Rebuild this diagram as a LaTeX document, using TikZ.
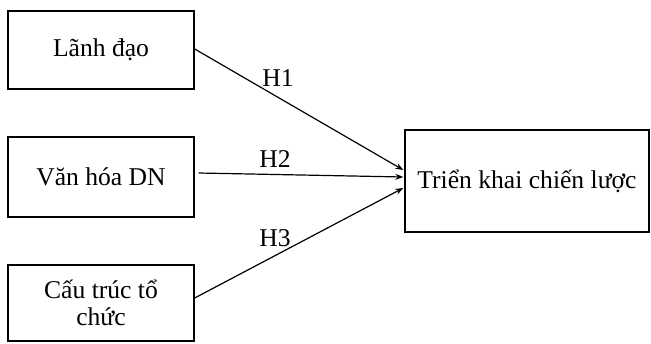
\documentclass[tikz,border=0pt]{standalone}
\usepackage{fontspec}
\setmainfont{Liberation Serif}
\usetikzlibrary{calc,arrows.meta}
\begin{document}
\begin{tikzpicture}[x=1pt,y=-1pt,
  box/.style={draw,line width=1.4pt,inner sep=0pt,align=center,font=\fontsize{25.6}{27}\selectfont},
  arr/.style={line width=1.2pt,-{Stealth[length=8pt,width=6pt]}},
  lab/.style={font=\fontsize{25.6}{27}\selectfont,inner sep=0pt}]
\useasboundingbox (0,0) rectangle (651,343);
\node[box,minimum width=186pt,minimum height=78pt] (a) at (101,50) {Lãnh đạo};
\node[box,minimum width=186pt,minimum height=80pt] (b) at (101,177) {Văn hóa DN};
\node[box,minimum width=186pt,minimum height=76pt] (c) at (101,303) {Cấu trúc tổ\\chức};
\node[box,minimum width=244pt,minimum height=102pt] (t) at (527,181) {Triển khai chiến lược};
\coordinate (bs) at ($(b.east)+(4,-4)$);
\draw[arr] ($(a.east)+(0,-1)$) -- ($(t.west)+(-1,-11)$);
\draw[arr] (bs) -- ($(t.west)+(-1,-4)$);
\draw[arr] ($(c.east)+(0,-5)$) -- ($(t.west)+(-1,7)$);
\node[lab] (h1) at (278,78) {H1};
\node[lab] (h2) at (275,159) {H2};
\node[lab] (h3) at (275,238) {H3};
\end{tikzpicture}
\end{document}
